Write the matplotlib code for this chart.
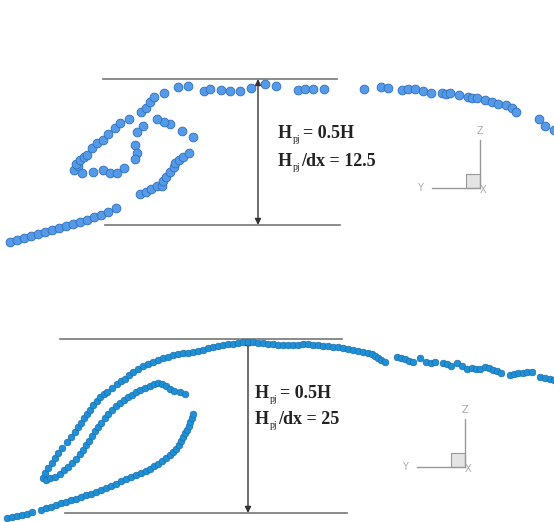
import matplotlib.pyplot as plt

# particle positions in pixels (y down)
# top panel: H_pj/dx = 12.5
top_tail_x = [10, 17, 24, 31, 38, 45, 52, 59, 66, 73, 80, 87, 94, 101, 108, 116]
top_tail_y = [242, 240, 238, 236, 234, 232, 230, 228, 226, 224, 222, 220, 217, 215, 212, 208]

top_loop_x = [140, 146, 151, 157, 162, 163, 166, 170, 174, 175, 179, 183, 189, 193, 182, 170, 164, 157,
              143, 137, 135, 137, 135,
              74, 78, 82, 93, 103, 110, 117, 124, 76, 80, 84, 87, 92, 97, 103, 108, 115, 120, 129,
              141, 146, 150, 154, 164, 178, 188]
top_loop_y = [194, 192, 189, 186, 186, 181, 177, 172, 167, 163, 160, 157, 153, 137, 131, 124, 122, 119,
              126, 132, 145, 153, 159,
              170, 166, 173, 172, 170, 173, 173, 168, 164, 160, 157, 155, 148, 143, 140, 134, 128, 123, 119,
              112, 108, 102, 97, 93, 87, 86]

top_arc_x = [204, 210, 221, 230, 240, 251, 265, 276, 298, 305, 313, 324, 364, 381, 388, 402, 408, 415,
             423, 431, 442, 446, 450, 459, 468, 472, 477, 485, 492, 498, 506, 512, 516, 539, 545, 554]
top_arc_y = [91, 89, 90, 91, 91, 88, 84, 86, 90, 89, 89, 89, 89, 87, 88, 90, 89, 89,
             91, 93, 93, 94, 93, 95, 97, 98, 98, 100, 102, 104, 105, 108, 112, 119, 126, 130]

# bottom panel: H_pj/dx = 25
bot_tail_x = [7, 12, 17, 22, 27, 32, 41, 46, 51, 56, 61, 66, 71, 76, 81, 86, 91, 96, 101, 106, 111, 116,
              121, 126, 131, 136, 141, 146, 150, 154, 158, 162, 166, 170, 173, 176, 179, 181, 183, 185,
              187, 189, 190, 192, 193]
bot_tail_y = [518, 517, 516, 515, 514, 512, 510, 508, 507, 505, 503, 502, 500, 499, 497, 495, 494, 492,
              490, 488, 486, 484, 481, 479, 477, 475, 473, 471, 469, 466, 464, 461, 458, 455, 452, 449,
              445, 441, 437, 433, 430, 426, 422, 418, 414]

bot_outer_x = [43, 45, 48, 52, 55, 58, 62, 67, 71, 75, 78, 81, 84, 87, 90, 93, 97, 100, 104, 107, 112,
               117, 121, 125, 129, 133, 138, 143, 148, 153, 158, 163, 168, 173, 178, 183, 188, 193, 198,
               203, 208, 213, 218, 223, 228, 233, 238, 243, 248, 253, 258, 263, 268, 273, 278, 283, 288,
               293, 298, 303, 308, 313, 318, 323, 328, 333, 338, 343, 348, 353, 358, 363, 368, 372, 375,
               378, 381, 385, 397, 401, 405, 409, 413, 420, 426, 431, 435, 443, 447, 451, 457, 462, 467,
               472, 476, 480, 485, 489, 493, 497, 501, 510, 514, 518, 523, 527, 532, 540, 545, 550, 554]
bot_outer_y = [478, 473, 468, 463, 458, 453, 448, 442, 437, 432, 427, 423, 418, 414, 410, 405, 401, 397,
               394, 392, 388, 384, 381, 379, 375, 372, 369, 366, 364, 362, 360, 358, 357, 355, 354, 353,
               353, 352, 351, 350, 348, 347, 346, 345, 344, 344, 343, 342, 342, 342, 343, 343, 344, 344,
               345, 345, 345, 345, 345, 344, 344, 345, 345, 346, 346, 347, 347, 348, 349, 350, 351, 352,
               353, 354, 356, 358, 360, 362, 357, 358, 359, 361, 362, 358, 362, 363, 362, 363, 364, 366,
               363, 366, 369, 368, 369, 369, 367, 368, 370, 371, 373, 375, 374, 373, 373, 372, 372, 377,
               378, 379, 380]

bot_mid_x = [46, 50, 55, 60, 64, 68, 72, 76, 80, 83, 86, 89, 92, 95, 98, 101, 105, 108, 112, 116, 120,
             124, 128, 132, 136, 140, 145, 150, 154, 158, 162, 166, 170, 174, 180, 185]
bot_mid_y = [480, 478, 477, 474, 470, 467, 463, 459, 454, 450, 445, 441, 436, 431, 427, 423, 418, 414,
             410, 406, 403, 400, 397, 395, 392, 390, 388, 386, 384, 383, 384, 386, 389, 391, 392, 394]

fig = plt.figure(figsize=(5.54, 5.22), dpi=100)
ax = fig.add_axes([0, 0, 1, 1])
ax.set_xlim(0, 554)
ax.set_ylim(522, 0)
ax.axis('off')

top_kw = dict(s=40, c='#559ae8', edgecolors='#2f6fba', linewidths=0.6, zorder=3)
ax.scatter(top_tail_x, top_tail_y, **top_kw)
ax.scatter(top_loop_x, top_loop_y, **top_kw)
ax.scatter(top_arc_x, top_arc_y, **top_kw)

bot_kw = dict(s=23, c='#1f8fd6', edgecolors='#1870ae', linewidths=0.5, zorder=3)
ax.scatter(bot_tail_x, bot_tail_y, **bot_kw)
ax.scatter(bot_outer_x, bot_outer_y, **bot_kw)
ax.scatter(bot_mid_x, bot_mid_y, **bot_kw)

serif = dict(fontfamily='Liberation Serif', color='#222222', va='center')


def label(x, y, dx_rest, rest):
    ax.text(x, y, 'H', fontsize=13, fontweight='bold', **serif)
    ax.text(x + 14.5, y + 6, 'pj', fontsize=7, **serif)
    ax.text(x + dx_rest, y, rest, fontsize=13, fontweight='bold', **serif)


def panel(top, bot, x0, x1, xa, ratio, tx, ty, gap, zx, zy):
    ax.plot([x0[0], x1[0]], [top, top], color='#777777', lw=1.2, zorder=2)
    ax.plot([x0[1], x1[1]], [bot, bot], color='#777777', lw=1.2, zorder=2)
    ax.annotate('', xy=(xa, top), xytext=(xa, bot),
                arrowprops=dict(arrowstyle='<|-|>', color='#333333', lw=1.0,
                                mutation_scale=9, shrinkA=0, shrinkB=0), zorder=2)
    label(tx, ty, 25, '= 0.5H')
    label(tx, ty + gap, 23, '/dx = ' + ratio)
    # small axis triad
    ax.plot([zx, zx], [zy - 48, zy], color='#999999', lw=1.0)
    ax.plot([zx - 48, zx], [zy, zy], color='#999999', lw=1.0)
    ax.add_patch(plt.Rectangle((zx - 14, zy - 14), 14, 14, facecolor='#e4e4e4',
                               edgecolor='#999999', lw=0.8))
    ax.text(zx, zy - 57, 'Z', fontsize=7, color='#aaaaaa', ha='center', va='center')
    ax.text(zx - 60, zy, 'Y', fontsize=7, color='#aaaaaa', ha='center', va='center')
    ax.text(zx + 3, zy + 2, 'X', fontsize=7, color='#aaaaaa', ha='center', va='center')


panel(79, 225, (103, 105), (337, 340), 258, '12.5', 278, 134, 27, 480, 188)
panel(339, 513, (60, 65), (342, 347), 248, '25', 255, 394, 25, 465, 467)

fig.savefig('out.png', dpi=100)
